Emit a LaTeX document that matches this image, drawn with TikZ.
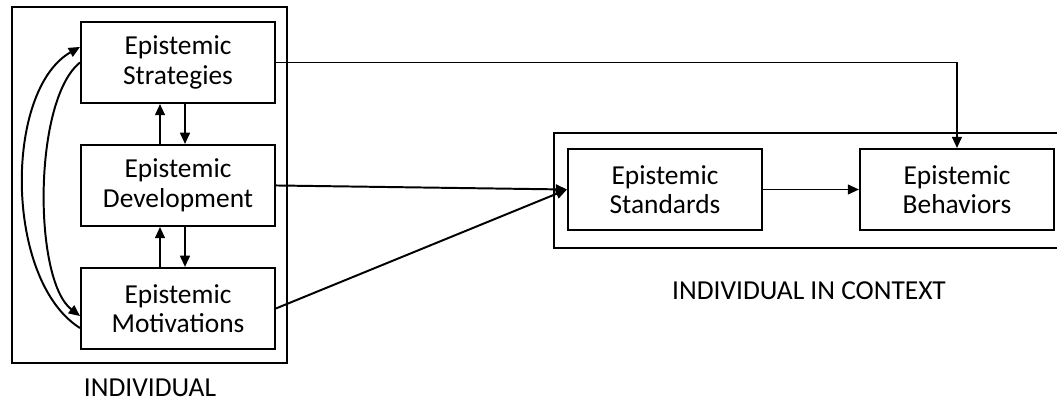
\documentclass[tikz,border=0pt]{standalone}
\usepackage{fontspec}
\setmainfont{Carlito}
\usetikzlibrary{arrows.meta, positioning, fit}

\begin{document}
\begin{tikzpicture}[
    node distance=1cm and 2.4cm,
    epi/.style={rectangle, draw=black, line width=1.4pt,
                minimum width=4.85cm, minimum height=2.025cm,
                inner sep=0pt, align=center,
                font=\fontsize{19.5}{21}\selectfont},
    frame/.style={rectangle, draw=black, line width=1.4pt, inner sep=0pt},
    caption/.style={font=\fontsize{19.5}{21}\selectfont},
    arr/.style={-{Triangle[length=8pt, width=7pt]}, line width=1.4pt},
  ]
    \useasboundingbox (0,0) rectangle (26.425,-10.1);

    % individual
    \node[epi] (strat) at (4.45,-1.5625) {Epistemic\\Strategies};
    \node[epi, below=of strat] (dev) {Epistemic\\Development};
    \node[epi, below=of dev] (mot) {Epistemic\\Motivations};
    \node[frame, fit={(0.3,-0.175) (7.175,-9.075)}] (indiv) {};
    \node[caption] (indivlbl) at (3.75,-9.7) {INDIVIDUAL};

    % individual in context
    \node[epi] (stand) at (16.625,-4.7375) {Epistemic\\Standards};
    \node[epi, right=of stand] (behav) {Epistemic\\Behaviors};
    \node[frame, fit={(13.85,-3.325) (26.7,-6.2)}] (ctx) {};
    \node[caption] (ctxlbl) at (20.225,-7.275) {INDIVIDUAL IN CONTEXT};

    % between the inner boxes
    \draw[arr] ([xshift=-0.45cm]dev.north) -- ([xshift=-0.45cm]strat.south);
    \draw[arr] ([xshift=0.175cm]strat.south) -- ([xshift=0.175cm]dev.north);
    \draw[arr] ([xshift=-0.45cm]mot.north) -- ([xshift=-0.45cm]dev.south);
    \draw[arr] ([xshift=0.175cm]dev.south) -- ([xshift=0.175cm]mot.north);

    % loops on the left
    \draw[arr] ([yshift=-0.49cm]mot.west) .. controls (0.1,-7.0) and (0.1,-2.25) .. ([yshift=0.39cm]strat.west);
    \draw[arr] (strat.west) .. controls (0.825,-2.5) and (0.825,-7.0) .. ([yshift=-0.19cm]mot.west);

    \draw[arr] (strat.east) -| (behav.north);
    \draw[arr] (dev.east) -- (stand.west);
    \draw[arr] (mot.east) -- (stand.west);
    \draw[arr] (stand.east) -- (behav.west);
\end{tikzpicture}
\end{document}
